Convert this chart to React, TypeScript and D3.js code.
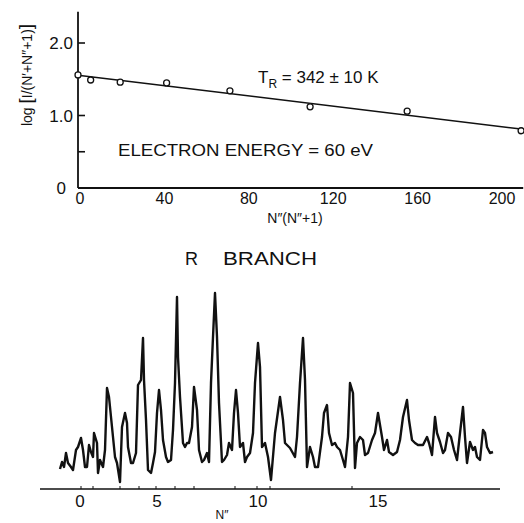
import React from "react";
import * as d3 from "d3";

// ---------- Top panel data (Boltzmann plot) ----------
const nnPlus1 = [0, 6, 20, 42, 72, 110, 156, 210];
const logIntensity = [1.56, 1.49, 1.46, 1.45, 1.34, 1.12, 1.06, 0.79];
const fitIntercept = 1.555;
const fitSlope = -0.00353;
const fitRange = [0, 211];
const topXTicks = [0, 40, 80, 120, 160, 200];
const topYTicks = [0.5, 1.0, 2.0];
const topYTickLabels = ["", "1.0", "2.0"];

// ---------- Bottom panel data (R branch spectrum) ----------
const channel = [
  5, 5.5, 6, 6.5, 7, 7.75, 8.25, 9, 9.5, 10.25, 10.75, 11.25, 11.75, 12.25, 12.75, 13.25, 13.5, 14.25, 14.5, 15,
  15.75, 16.25, 16.75, 17.25, 18, 18.75, 19.25, 20, 20.5, 21.25, 21.75, 22, 22.75, 23.25, 24, 24.5, 25.25, 25.75, 26, 26.5,
  27, 27.75, 28.25, 28.75, 29.25, 29.75, 30.25, 30.75, 31.5, 32, 32.75, 33.25, 33.75, 34.25, 34.5, 35, 35.75, 36.25, 36.75, 37.25,
  38, 38.5, 39.25, 39.75, 40.5, 41, 41.75, 42.25, 42.75, 43.25, 43.75, 44.25, 44.75, 45.5, 46, 46.75, 47.25, 48, 48.5, 49,
  49.5, 50, 50.75, 51.25, 51.75, 52.5, 53.25, 53.75, 54.5, 55, 55.5, 56.25, 57, 57.75, 58.75, 60, 60.75, 61.25, 62.5, 63.75,
  64.25, 65, 65.75, 66.25, 66.75, 67.5, 68.25, 68.75, 69.5, 70.5, 71, 71.75, 72.25, 73, 73.75, 74.25, 75, 75.75, 76.25, 77,
  77.5, 78.25, 78.75, 79.25, 80, 80.75, 81.25, 82, 83, 83.75, 84.5, 85.5, 86, 86.75, 87.25, 88.25, 89.25, 90, 90.75, 91.75,
  92.25, 93, 93.75, 94.5, 95.75, 96.75, 97.25, 98, 98.75, 99.25, 100, 100.75, 101.25, 102, 102.75, 103.5, 104.25, 105, 105.75, 106.25,
  106.75, 107.5, 108.25, 108.75, 109.25, 110, 110.75, 111.25, 111.75, 112.5, 113.25,
];
const intensity = [
  10, 13.5, 11, 18, 13, 11, 9.5, 19.5, 21, 25.5, 19.5, 11, 11, 22, 18.5, 16, 28, 23, 8, 14.5,
  11, 19.5, 50.5, 46, 31, 16, 13, 3.5, 31, 38, 33, 21, 13, 13, 18, 52, 54.5, 75.5, 54.5, 34.5,
  9.5, 8, 13, 18.5, 38, 49.5, 39.5, 24.5, 16, 13.5, 14.5, 29.5, 53, 96, 66, 46, 23, 21, 23, 23,
  31, 51, 39.5, 19.5, 13.5, 14.5, 18, 13.5, 53, 76, 98, 76, 43, 13.5, 14.5, 17, 23, 19.5, 38, 49.5,
  38, 21, 23, 13.5, 16, 18, 28, 53, 73, 61, 21, 23, 16, 4.5, 28, 46, 34.5, 23, 20.5, 16,
  26, 53, 75.5, 54.5, 11, 21, 16, 11, 11, 26, 38, 42, 28, 22, 23, 21, 19.5, 14.5, 11, 26,
  53, 48, 10.5, 23, 26, 24.5, 17, 18, 24.5, 28, 38, 26, 19.5, 24.5, 18.5, 17, 18.5, 24.5, 36, 44.5,
  34.5, 24.5, 23, 22, 22, 26, 23, 17, 36, 28, 23.5, 18, 19.5, 28, 26, 19.5, 14.5, 28, 41, 26,
  13, 23.5, 19.5, 21, 16, 14.5, 29.5, 28, 21, 18, 18.5,
];
const nTickLabels = ["0", "5", "10", "15"];
const nTickChannels = [10, 29.25, 54.5, 84.5];
const minorTickChannels = [10.25, 13.25, 20, 24.75, 29, 33.75, 38.5, 48.75, 54.25, 57.5, 78];

const FONT = "'Liberation Sans', Arial, sans-serif";

export default function App() {
  // top scales
  const xT = d3.scaleLinear().domain([0, 200]).range([78, 500]);
  const yT = d3.scaleLinear().domain([0, 2]).range([188, 43]);
  // bottom scales
  const xB = d3.scaleLinear().domain([0, 115]).range([40, 500]);
  const yB = d3.scaleLinear().domain([0, 100]).range([489, 289]);

  const fitLine = d3
    .line<number>()
    .x((d) => xT(d))
    .y((d) => yT(fitIntercept + fitSlope * d))(fitRange);

  const spectrum = d3
    .line<number>()
    .x((_, i) => xB(channel[i]))
    .y((d) => yB(d))
    .curve(d3.curveLinear)(intensity);

  return (
    <svg
      width={524}
      height={523}
      style={{ position: "absolute", left: 0, top: 0, background: "#fff" }}
      fontFamily={FONT}
    >
      <rect width={524} height={523} fill="#fff" />
      {/* ---------- Top panel ---------- */}
      <line x1={xT(0)} x2={xT(0)} y1={yT(2.43)} y2={yT(0)} stroke="#111" strokeWidth={1.8} />
      <line x1={xT(0)} x2={xT(211)} y1={yT(0)} y2={yT(0)} stroke="#111" strokeWidth={1.8} />
      {topYTicks.map((t, i) => (
        <g key={"yt" + i}>
          <line x1={xT(0)} x2={xT(0) + 7} y1={yT(t)} y2={yT(t)} stroke="#111" strokeWidth={1.6} />
          {topYTickLabels[i] && (
            <text x={73} y={yT(t) + 6} textAnchor="end" fontSize={17} fill="#111">
              {topYTickLabels[i]}
            </text>
          )}
        </g>
      ))}
      <text x={66} y={194} textAnchor="end" fontSize={17} fill="#111">0</text>
      {topXTicks.map((t) => (
        <text key={"xt" + t} x={xT(t) + 2} y={204} textAnchor="middle" fontSize={16} fill="#111">
          {t}
        </text>
      ))}
      <text x={295} y={223} textAnchor="middle" fontSize={14} fill="#111">
        N″(N″+1)
      </text>
      <text
        transform="translate(32,75) rotate(-90)"
        textAnchor="middle"
        fontSize={14}
        fill="#111"
      >
        log <tspan fontSize={19}>[</tspan>I/(N′+N″+1)<tspan fontSize={19}>]</tspan>
      </text>
      <path d={fitLine ?? ""} fill="none" stroke="#111" strokeWidth={1.5} />
      {nnPlus1.map((v, i) => (
        <circle key={"p" + i} cx={xT(v)} cy={yT(logIntensity[i])} r={3} fill="#fff" stroke="#111" strokeWidth={1.3} />
      ))}
      <text x={258} y={83} fontSize={17} fill="#111">
        T<tspan fontSize={12} dy={5}>R</tspan>
        <tspan dy={-5}> = 342 ± 10 K</tspan>
      </text>
      <text x={118} y={156} fontSize={17} fill="#111" textLength={255} lengthAdjust="spacingAndGlyphs">
        ELECTRON ENERGY = 60 eV
      </text>

      {/* ---------- Bottom panel ---------- */}
      <text x={185} y={265} fontSize={18} fill="#111">R</text>
      <text x={223} y={265} fontSize={18} fill="#111" textLength={94} lengthAdjust="spacingAndGlyphs">
        BRANCH
      </text>
      <line x1={xB(0)} x2={xB(115)} y1={yB(0)} y2={yB(0)} stroke="#111" strokeWidth={1.6} />
      {minorTickChannels.map((c, i) => (
        <line key={"mt" + i} x1={xB(c)} x2={xB(c)} y1={yB(0)} y2={yB(0) - 3} stroke="#111" strokeWidth={1} />
      ))}
      {nTickChannels.map((c, i) => (
        <text key={"nt" + i} x={xB(c)} y={507} textAnchor="middle" fontSize={17} fill="#111">
          {nTickLabels[i]}
        </text>
      ))}
      <text x={222} y={519} textAnchor="middle" fontSize={12} fill="#111">
        N″
      </text>
      <path d={spectrum ?? ""} fill="none" stroke="#111" strokeWidth={2.4} strokeLinejoin="round" />
    </svg>
  );
}
